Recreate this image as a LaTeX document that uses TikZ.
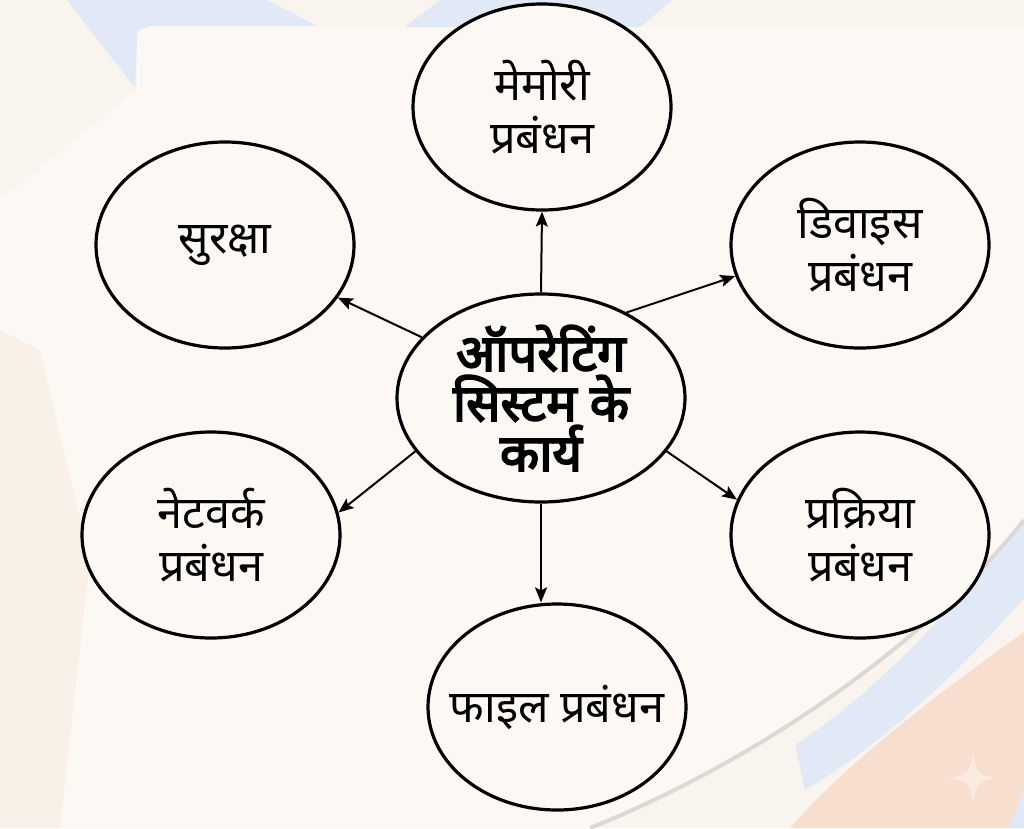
\documentclass[tikz,border=0pt]{standalone}
\usepackage{fontspec}
\setmainfont[Script=Devanagari]{Noto Sans}
\newfontfamily\hubfont[Script=Devanagari,FakeBold=3.5]{Noto Sans}
\usetikzlibrary{shapes.geometric,arrows.meta}
\definecolor{bgcream}{HTML}{F9F4ED}
\definecolor{cardcream}{HTML}{FCF9F4}
\definecolor{paleblue}{HTML}{E1E8F6}
\definecolor{paleorange}{HTML}{F8DECE}
\definecolor{palepeach}{HTML}{F9F1E8}
\definecolor{shadowgray}{HTML}{DCD9D4}
\definecolor{sparkle}{HTML}{FBEAE0}
\tikzset{
  bubble/.style={draw=black, line width=3.2pt, ellipse, fill=cardcream,
    inner xsep=-60pt, inner ysep=-30pt,
    minimum width=258pt, minimum height=206pt, align=center,
    font=\fontsize{45}{53}\selectfont},
  hub/.style={bubble, minimum width=288pt, minimum height=208pt,
    font=\hubfont\fontsize{51}{50}\selectfont},
  link/.style={draw=black, line width=2pt, -{Stealth[length=15pt,width=12pt,inset=3pt]}}
}
\begin{document}
\begin{tikzpicture}[x=1pt,y=-1pt]
\useasboundingbox (0,0) rectangle (1024,828);
% background
\fill[bgcream] (0,0) rectangle (1024,828);
\fill[cardcream] (150,26) -- (1024,26) -- (1024,520)
  .. controls (930,640) and (760,760) .. (590,828) -- (0,828) -- (0,200) -- (137,90) -- (137,40)
  .. controls (137,30) .. (150,26) -- cycle;
\fill[palepeach] (0,330) -- (40,350) -- (90,560) -- (60,828) -- (0,828) -- cycle;
\fill[paleblue] (67,0) -- (267,0) -- (317,26) -- (150,26) .. controls (137,30) .. (137,40)
  -- (135,88) -- cycle;
\fill[paleblue] (405,27) -- (440,0) -- (672,0) -- (640,27) -- cycle;
\fill[paleblue] (1024,520) .. controls (960,600) and (880,690) .. (795,745)
  -- (805,790) .. controls (890,740) and (970,660) .. (1024,598) -- cycle;
\fill[paleorange] (790,828) .. controls (850,760) and (930,700) .. (1024,632)
  -- (1024,790) -- (1008,828) -- cycle;
\fill[paleblue] (1008,828) -- (1024,790) -- (1024,828) -- cycle;
\draw[shadowgray, line width=4pt] (590,828) .. controls (760,760) and (930,640) .. (1024,520);
\fill[sparkle] (973,752) .. controls (976,772) and (978,775) .. (997,778)
  .. controls (978,781) and (976,784) .. (973,804)
  .. controls (970,784) and (968,781) .. (949,778)
  .. controls (968,775) and (970,772) .. (973,752) -- cycle;
% nodes
\node[hub] (c) at (541,398) {ऑपरेटिंग\\सिस्टम के\\कार्य};
\node[bubble] (m) at (542,107) {मेमोरी\\प्रबंधन};
\node[bubble] (s) at (225,245) {सुरक्षा};
\node[bubble] (d) at (860,245) {डिवाइस\\प्रबंधन};
\node[bubble] (n) at (211,535) {नेटवर्क\\प्रबंधन};
\node[bubble] (p) at (860,535) {प्रक्रिया\\प्रबंधन};
\node[bubble] (f) at (557,707) {फाइल प्रबंधन};
% connectors
\draw[link] (c.90) -- (m.270);
\draw[link] (c.45) -- (d.194);
\draw[link] (c.153) -- (s.335);
\draw[link] (c.203) -- (n.10);
\draw[link] (c.337) -- (p.164);
\draw[link] (c.270) -- (c.270 |- f.north);
\end{tikzpicture}
\end{document}
